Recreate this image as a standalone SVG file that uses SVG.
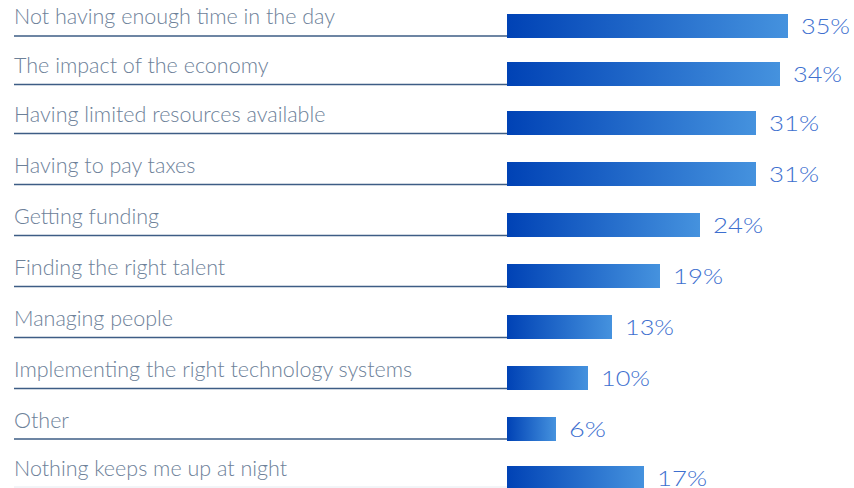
<svg xmlns="http://www.w3.org/2000/svg" width="854" height="488" viewBox="0 0 854 488">
<defs>
<linearGradient id="bar" x1="0" y1="0" x2="1" y2="0">
<stop offset="0" stop-color="#0042b5"/>
<stop offset="1" stop-color="#4592de"/>
</linearGradient>
<style>
.lbl{font-family:"Lato","Open Sans","Liberation Sans",sans-serif;font-weight:300;font-size:21.5px;fill:#6d8199}
.pct{font-family:"Lato","Open Sans","Liberation Sans",sans-serif;font-weight:300;font-size:22px;fill:#3d6fcf}
.rule{stroke:#3d5d85;stroke-width:1.5}
.bar{fill:url(#bar)}
</style>
</defs>
<g id="connectors">
<line class="rule" x1="14" y1="36" x2="507" y2="36"/>
<line class="rule" x1="14" y1="84.5" x2="507" y2="84.5"/>
<line class="rule" x1="14" y1="133.5" x2="507" y2="133.5"/>
<line class="rule" x1="14" y1="184.5" x2="507" y2="184.5"/>
<line class="rule" x1="14" y1="235.5" x2="507" y2="235.5"/>
<line class="rule" x1="14" y1="286.5" x2="507" y2="286.5"/>
<line class="rule" x1="14" y1="337.5" x2="507" y2="337.5"/>
<line class="rule" x1="14" y1="388.5" x2="507" y2="388.5"/>
<line class="rule" x1="14" y1="439" x2="507" y2="439"/>
<line x1="14" y1="487" x2="507" y2="487" stroke="#e6eaf0" stroke-width="1"/>
</g>
<g id="row1"><text class="lbl" x="14" y="24">Not having enough time in the day</text><rect class="bar" x="507" y="14" width="281" height="24"/><text class="pct" x="801" y="33.5" textLength="49" lengthAdjust="spacingAndGlyphs">35%</text></g>
<g id="row2"><text class="lbl" x="14" y="72.5">The impact of the economy</text><rect class="bar" x="507" y="62" width="273" height="24"/><text class="pct" x="793" y="81.5" textLength="49" lengthAdjust="spacingAndGlyphs">34%</text></g>
<g id="row3"><text class="lbl" x="14" y="121.5">Having limited resources available</text><rect class="bar" x="507" y="111" width="249" height="24"/><text class="pct" x="769" y="130.5" textLength="50" lengthAdjust="spacingAndGlyphs">31%</text></g>
<g id="row4"><text class="lbl" x="14" y="172.5">Having to pay taxes</text><rect class="bar" x="507" y="162" width="249" height="24"/><text class="pct" x="769" y="181.5" textLength="50" lengthAdjust="spacingAndGlyphs">31%</text></g>
<g id="row5"><text class="lbl" x="14" y="223.5">Getting funding</text><rect class="bar" x="507" y="213" width="193" height="24"/><text class="pct" x="713" y="232.5" textLength="50" lengthAdjust="spacingAndGlyphs">24%</text></g>
<g id="row6"><text class="lbl" x="14" y="274.5">Finding the right talent</text><rect class="bar" x="507" y="264" width="153" height="24"/><text class="pct" x="673" y="283.5" textLength="50" lengthAdjust="spacingAndGlyphs">19%</text></g>
<g id="row7"><text class="lbl" x="14" y="325.5">Managing people</text><rect class="bar" x="507" y="315" width="105" height="24"/><text class="pct" x="625" y="334.5" textLength="49" lengthAdjust="spacingAndGlyphs">13%</text></g>
<g id="row8"><text class="lbl" x="14" y="376.5">Implementing the right technology systems</text><rect class="bar" x="507" y="366" width="81" height="24"/><text class="pct" x="601" y="385.5" textLength="49" lengthAdjust="spacingAndGlyphs">10%</text></g>
<g id="row9"><text class="lbl" x="14" y="427.5">Other</text><rect class="bar" x="507" y="417" width="49" height="24"/><text class="pct" x="569" y="436.5" textLength="37" lengthAdjust="spacingAndGlyphs">6%</text></g>
<g id="row10"><text class="lbl" x="14" y="476">Nothing keeps me up at night</text><rect class="bar" x="507" y="466" width="137" height="24"/><text class="pct" x="657" y="485.5" textLength="50" lengthAdjust="spacingAndGlyphs">17%</text></g>
</svg>
